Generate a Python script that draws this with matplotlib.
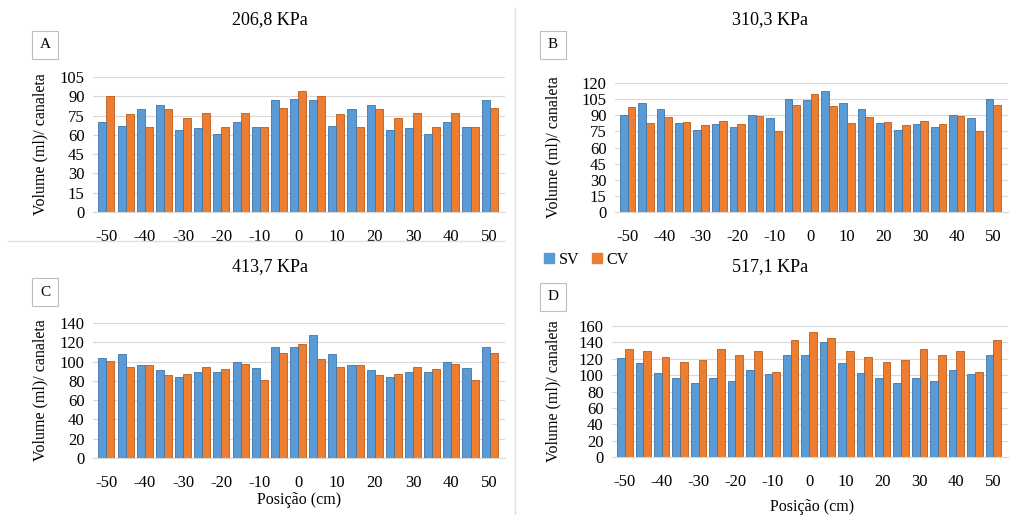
import numpy as np
import matplotlib.pyplot as plt
from matplotlib.patches import Rectangle
from matplotlib.lines import Line2D

plt.rcParams['font.family'] = ['Liberation Serif', 'DejaVu Serif']
plt.rcParams['axes.unicode_minus'] = False

positions = [-50, -45, -40, -35, -30, -25, -20, -15, -10, -5, 0,
             5, 10, 15, 20, 25, 30, 35, 40, 45, 50]

sv_a = [70, 67, 80, 83, 64, 65, 61, 70, 66, 87, 88, 87, 67, 80, 83, 64, 65, 61, 70, 66, 87]
cv_a = [90, 76, 66, 80, 73, 77, 66, 77, 66, 81, 94, 90, 76, 66, 80, 73, 77, 66, 77, 66, 81]

sv_b = [90, 101, 96, 83, 76, 82, 79, 90, 87, 105, 104, 113, 101, 96, 83, 76, 82, 79, 90, 87, 105]
cv_b = [98, 83, 88, 84, 81, 85, 82, 89, 75, 100, 110, 99, 83, 88, 84, 81, 85, 82, 89, 75, 100]

sv_c = [104, 108, 96, 91, 84, 89, 89, 100, 93, 115, 115, 128, 108, 96, 91, 84, 89, 89, 100, 93, 115]
cv_c = [101, 94, 96, 86, 87, 94, 92, 98, 81, 109, 118, 103, 94, 96, 86, 87, 94, 92, 98, 81, 109]

sv_d = [121, 115, 102, 97, 90, 96, 93, 106, 101, 124, 125, 140, 115, 102, 97, 90, 96, 93, 106, 101, 124]
cv_d = [132, 130, 122, 116, 118, 132, 124, 130, 104, 143, 153, 145, 130, 122, 116, 118, 132, 124, 130, 104, 143]

panels = [
    ("A", "206,8 KPa", sv_a, cv_a, 105, 15),
    ("B", "310,3 KPa", sv_b, cv_b, 120, 15),
    ("C", "413,7 KPa", sv_c, cv_c, 140, 20),
    ("D", "517,1 KPa", sv_d, cv_d, 160, 20),
]

blue = '#5b9bd5'
orange = '#ed7d31'
blue_dark = '#3f75a8'
orange_dark = '#b85d1e'

fig = plt.figure(figsize=(10.1, 5.15), dpi=100)
W, H = 1010, 515

# axes boxes in pixels: left, top, right, bottom
boxes = [(93, 77, 505, 212), (615, 83, 1008, 212),
         (93, 323, 505, 458), (612, 326, 1008, 457)]
title_xy = [(270, 20), (770, 20), (270, 267), (770, 267)]
letter_xy = [(45, 45), (553, 45), (45, 292), (553, 297)]
ylabel_x = [40, 553, 40, 553]

x = np.array(positions, dtype=float)
w = 2.1

for i, (letter, title, sv, cv, ymax, step) in enumerate(panels):
    l, t, r, b = boxes[i]
    ax = fig.add_axes([l / W, 1 - b / H, (r - l) / W, (b - t) / H])
    ax.bar(x - w / 2, sv, width=w, color=blue, edgecolor=blue_dark, linewidth=0.6, zorder=3)
    ax.bar(x + w / 2, cv, width=w, color=orange, edgecolor=orange_dark, linewidth=0.6, zorder=2)
    ax.set_ylim(0, ymax)
    ax.set_xlim(-53.5, 54)
    ax.set_yticks(np.arange(0, ymax + 1, step))
    ax.set_xticks(np.arange(-50, 51, 10))
    ax.grid(axis='y', color='#d9d9d9', linewidth=0.8, zorder=0)
    for s in ['top', 'right', 'left']:
        ax.spines[s].set_visible(False)
    ax.spines['bottom'].set_color('#d9d9d9')
    ax.tick_params(length=0, labelsize=12, pad=6)
    ax.tick_params(axis='x', pad=12)

    tx, ty = title_xy[i]
    fig.text(tx / W, 1 - ty / H, title, fontsize=13, ha='center', va='center')
    lx, ly = letter_xy[i]
    fig.text(lx / W, 1 - ly / H, letter, fontsize=11, ha='center', va='center',
             bbox=dict(boxstyle='square,pad=0.5', facecolor='white', edgecolor='#bfbfbf', linewidth=0.8))
    fig.text(ylabel_x[i] / W, 1 - ((t + b) / 2) / H, "Volume (ml)/ canaleta",
             fontsize=11.5, rotation=90, ha='center', va='center')

fig.text(299 / W, 1 - 500 / H, "Posição (cm)", fontsize=11.5, ha='center', va='center')
fig.text(812 / W, 1 - 507 / H, "Posição (cm)", fontsize=11.5, ha='center', va='center')

# separators
fig.add_artist(Line2D([515 / W, 515 / W], [0, 1 - 8 / H], color='#e0e0e0', linewidth=1))
fig.add_artist(Line2D([8 / W, 505 / W], [1 - 241 / H, 1 - 241 / H], color='#e0e0e0', linewidth=1))

handles = [Rectangle((0, 0), 1, 1, color=blue), Rectangle((0, 0), 1, 1, color=orange)]
fig.legend(handles, ['SV', 'CV'], loc='center left', bbox_to_anchor=(530 / W, 1 - 260 / H),
           ncol=2, frameon=False, fontsize=11.5, handlelength=0.6, handleheight=0.6,
           handletextpad=0.3, columnspacing=0.8)

fig.savefig('out.png', dpi=100)
